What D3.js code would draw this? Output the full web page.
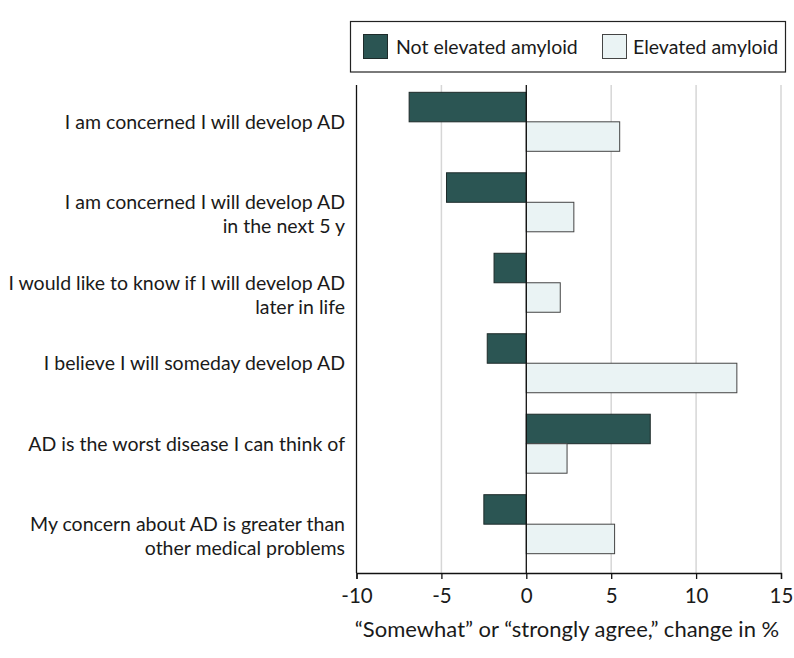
<!DOCTYPE html>
<html>
<head>
<meta charset="utf-8">
<script src="https://cdn.jsdelivr.net/npm/d3@7"></script>
<style>
  body { margin: 0; background: #fff; }
  text { font-family: Lato, "Noto Sans", sans-serif; fill: #1a1a1a; }
</style>
</head>
<body>
<svg id="chart" width="794" height="658"></svg>
<script>
// data
const statements = [
  ["I am concerned I will develop AD"],
  ["I am concerned I will develop AD", "in the next 5 y"],
  ["I would like to know if I will develop AD", "later in life"],
  ["I believe I will someday develop AD"],
  ["AD is the worst disease I can think of"],
  ["My concern about AD is greater than", "other medical problems"]
];
const notElevated = [-6.9, -4.7, -1.9, -2.3, 7.3, -2.5];
const elevated = [5.5, 2.8, 2.0, 12.4, 2.4, 5.2];
const seriesNames = ["Not elevated amyloid", "Elevated amyloid"];
const xTicks = [-10, -5, 0, 5, 10, 15];
const xTitle = "\u201cSomewhat\u201d or \u201cstrongly agree,\u201d change in %";

const colors = { dark: "#2b5553", light: "#eaf3f4" };

const svg = d3.select("#chart");

const x = d3.scaleLinear().domain([-10, 15]).range([356.5, 781]);
const y = d3.scaleBand()
  .domain(d3.range(statements.length))
  .range([73, 573])
  .paddingInner(0.267)
  .paddingOuter(0.24);
const plotTop = 85, plotBottom = 573;
const half = y.bandwidth() / 2;

// gridlines
svg.append("g")
  .selectAll("line")
  .data(xTicks.filter(d => d !== -10 && d !== 0))
  .join("line")
  .attr("x1", d => x(d)).attr("x2", d => x(d))
  .attr("y1", plotTop).attr("y2", plotBottom)
  .attr("stroke", "#d6d6d6").attr("stroke-width", 1.5);

// bars
const rows = statements.map((s, i) => ({ i, a: notElevated[i], b: elevated[i] }));
const bars = svg.append("g");
bars.selectAll("rect.ne")
  .data(rows)
  .join("rect")
  .attr("class", "ne")
  .attr("x", d => x(Math.min(0, d.a)))
  .attr("width", d => Math.abs(x(d.a) - x(0)))
  .attr("y", d => y(d.i))
  .attr("height", half)
  .attr("fill", colors.dark)
  .attr("stroke", "#1e2b2a").attr("stroke-width", 1);
bars.selectAll("rect.el")
  .data(rows)
  .join("rect")
  .attr("class", "el")
  .attr("x", d => x(Math.min(0, d.b)))
  .attr("width", d => Math.abs(x(d.b) - x(0)))
  .attr("y", d => y(d.i) + half)
  .attr("height", half)
  .attr("fill", colors.light)
  .attr("stroke", "#444").attr("stroke-width", 1);

// zero line and left axis line
svg.append("line")
  .attr("x1", x(0)).attr("x2", x(0))
  .attr("y1", plotTop).attr("y2", plotBottom)
  .attr("stroke", "#111").attr("stroke-width", 1.3);
svg.append("line")
  .attr("x1", x(-10)).attr("x2", x(-10))
  .attr("y1", plotTop).attr("y2", plotBottom)
  .attr("stroke", "#111").attr("stroke-width", 1.3);

// x axis
const xAxis = svg.append("g")
  .attr("transform", `translate(0,${plotBottom})`)
  .call(d3.axisBottom(x).tickValues(xTicks).tickSize(6)
    .tickFormat(d => d < 0 ? "-" + Math.abs(d) : d));
xAxis.select(".domain").attr("stroke", "#111").attr("stroke-width", 1.3);
xAxis.selectAll(".tick line").attr("stroke", "#111").attr("stroke-width", 1.3);
xAxis.selectAll(".tick text")
  .attr("y", 30).attr("dy", 0)
  .style("font-family", "Lato, 'Noto Sans', sans-serif")
  .style("font-size", "20.5px")
  .attr("fill", "#1a1a1a");

svg.append("text")
  .attr("x", 567).attr("y", 637)
  .attr("text-anchor", "middle")
  .style("font-size", "22px")
  .text(xTitle);

// category labels
const labels = svg.append("g");
statements.forEach((lines, i) => {
  const t = labels.append("text")
    .attr("x", 345)
    .attr("y", y(i) + half)
    .attr("text-anchor", "end")
    .style("font-size", "19.5px");
  lines.forEach((ln, k) => {
    t.append("tspan")
      .attr("x", 345)
      .attr("dy", k === 0 ? "0.35em" : 24)
      .text(ln);
  });
});

// legend
const legend = svg.append("g");
legend.append("rect")
  .attr("x", 350.5).attr("y", 21.5)
  .attr("width", 435).attr("height", 50.5)
  .attr("fill", "#fff").attr("stroke", "#222").attr("stroke-width", 1.2);
const legendItems = [
  { name: seriesNames[0], fill: colors.dark, stroke: "#1e2b2a", sx: 363.5, tx: 396 },
  { name: seriesNames[1], fill: colors.light, stroke: "#444", sx: 602.5, tx: 633 }
];
legend.selectAll("rect.sw")
  .data(legendItems)
  .join("rect")
  .attr("class", "sw")
  .attr("x", d => d.sx).attr("y", 34.5)
  .attr("width", 24).attr("height", 24)
  .attr("fill", d => d.fill).attr("stroke", d => d.stroke);
legend.selectAll("text")
  .data(legendItems)
  .join("text")
  .attr("x", d => d.tx).attr("y", 47)
  .attr("dy", "0.35em")
  .style("font-size", "19.5px")
  .text(d => d.name);
</script>
</body>
</html>
